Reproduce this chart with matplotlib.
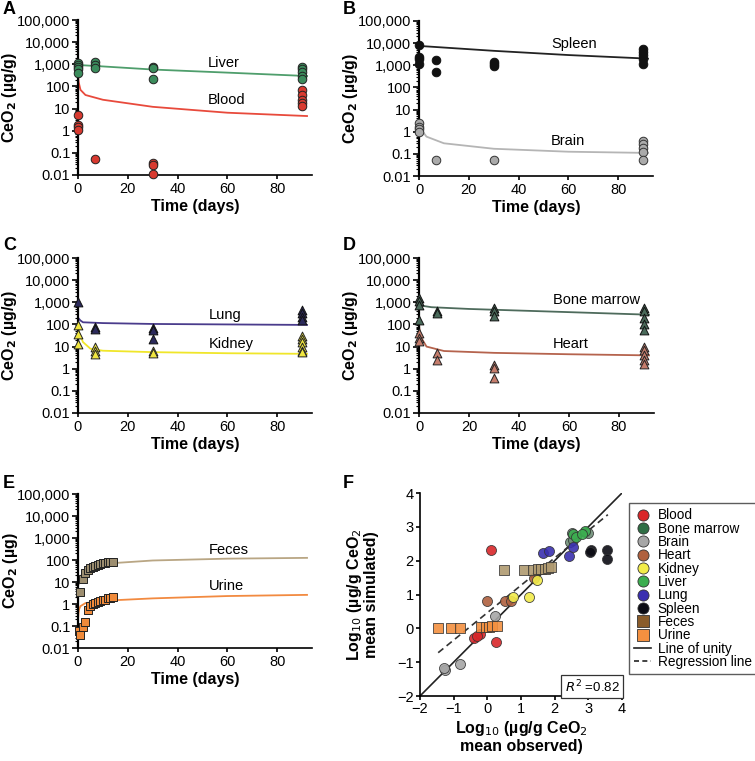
import numpy as np
import matplotlib.pyplot as plt
from matplotlib.ticker import FixedLocator, FuncFormatter, LogLocator, NullFormatter
from matplotlib.lines import Line2D

plt.rcParams['font.family'] = ['Liberation Sans', 'DejaVu Sans']

# ---- panel A: liver / blood ----
liver_t = [0, 0, 0, 0, 0, 7, 7, 7, 30, 30, 30, 90, 90, 90, 90, 90]
liver_v = [1100, 900, 750, 600, 400, 1300, 930, 660, 750, 650, 210, 780, 600, 470, 300, 220]
blood_t = [0, 0, 0, 0, 7, 30, 30, 30, 90, 90, 90, 90, 90]
blood_v = [5, 1.8, 1.4, 1.1, 0.055, 0.035, 0.027, 0.011, 69, 41, 25, 17, 13]
liver_sim_t = [0, 10, 30, 60, 92]
liver_sim_v = [930, 800, 580, 420, 295]
blood_sim_t = [0, 0.3, 1, 3, 10, 30, 60, 92]
blood_sim_v = [300, 150, 70, 41, 25, 12, 6.5, 4.6]

# ---- panel B: spleen / brain ----
spleen_t = [0, 0, 0, 0, 7, 7, 30, 30, 30, 90, 90, 90, 90, 90]
spleen_v = [8000, 2400, 1900, 1200, 1700, 500, 1400, 1200, 950, 5700, 4000, 2800, 2000, 1200]
brain_t = [0, 0, 0, 0, 7, 30, 90, 90, 90, 90, 90]
brain_v = [2.6, 1.6, 1.3, 1.0, 0.053, 0.053, 0.4, 0.27, 0.18, 0.12, 0.053]
spleen_sim_t = [0, 30, 60, 92]
spleen_sim_v = [7500, 4500, 2900, 2000]
brain_sim_t = [0, 0.3, 1, 3, 10, 30, 60, 92]
brain_sim_v = [2.6, 1.8, 1.2, 0.6, 0.3, 0.17, 0.125, 0.11]

# ---- panel C: lung / kidney ----
lung_t = [0, 7, 7, 30, 30, 30, 90, 90, 90, 90]
lung_v = [1000, 80, 60, 70, 55, 23, 430, 330, 215, 155]
kidney_t = [0, 0, 0, 7, 7, 7, 30, 30, 90, 90, 90, 90, 90, 90]
kidney_v = [90, 38, 13, 9.5, 6.5, 4.7, 6.5, 5, 30, 22, 16, 10, 6.5, 5.5]
lung_sim_t = [0, 1, 2, 10, 30, 60, 92]
lung_sim_v = [200, 150, 125, 115, 105, 100, 95]
kidney_sim_t = [0, 0.5, 2, 5, 10, 30, 60, 92]
kidney_sim_v = [90, 40, 16, 8, 6.5, 5.6, 5.0, 4.7]

# ---- panel D: bone marrow / heart ----
bm_t = [0, 0, 0, 0, 7, 7, 30, 30, 30, 90, 90, 90, 90, 90]
bm_v = [1550, 1100, 780, 160, 390, 330, 550, 390, 230, 550, 390, 200, 110, 58]
heart_t = [0, 0, 0, 7, 7, 30, 30, 30, 90, 90, 90, 90, 90]
heart_v = [41, 24, 17, 5.1, 2.6, 1.5, 1.1, 0.37, 10, 7, 4.3, 2.6, 1.6]
bm_sim_t = [0, 5, 20, 50, 92]
bm_sim_v = [730, 600, 500, 390, 275]
heart_sim_t = [0, 0.3, 1, 3, 10, 30, 60, 92]
heart_sim_v = [100, 45, 24, 10, 6.3, 5.2, 4.5, 4.0]

# ---- panel E: feces / urine (cumulative) ----
feces_t = [1, 2, 3, 4, 5, 6, 7, 8, 9, 10, 11, 12, 13, 14]
feces_v = [3.5, 13, 25, 35, 42, 50, 55, 60, 65, 70, 74, 78, 82, 85]
urine_t = [0.5, 1, 2, 3, 4, 5, 6, 7, 8, 9, 10, 11, 12, 13, 14]
urine_v = [0.06, 0.04, 0.09, 0.15, 0.55, 0.8, 1.0, 1.1, 1.2, 1.4, 1.5, 1.6, 1.8, 1.9, 2.0]
feces_sim_t = [0.3, 1, 3, 6, 14, 30, 60, 92]
feces_sim_v = [8, 18, 35, 50, 72, 95, 115, 125]
urine_sim_t = [0, 0.2, 0.5, 1, 3, 10, 30, 60, 92]
urine_sim_v = [0.2, 0.4, 0.6, 0.8, 1.1, 1.4, 1.8, 2.3, 2.6]

# ---- panel F: observed vs simulated (log10) ----
f_groups = ['Blood', 'Bone marrow', 'Brain', 'Heart', 'Kidney', 'Liver', 'Lung', 'Spleen', 'Feces', 'Urine']
f_obs = {
    'Blood': [0.10, -0.40, -0.22, 0.27, -0.30],
    'Bone marrow': [2.50, 2.59, 2.45, 2.55, 2.89, 2.99],
    'Brain': [-1.26, -1.29, -0.81, 0.24],
    'Heart': [-0.02, 0.52, 0.70, 1.39],
    'Kidney': [0.77, 1.23, 1.49],
    'Liver': [2.55, 2.62, 2.90, 2.80],
    'Lung': [1.64, 1.82, 2.43, 2.55],
    'Spleen': [3.07, 3.04, 3.56, 3.55],
    'Feces': [0.50, 1.08, 1.35, 1.50, 1.60, 1.70, 1.80, 1.90],
    'Urine': [-1.46, -1.08, -0.82, -0.20, -0.05, 0.05, 0.15, 0.28],
}
f_sim = {
    'Blood': [2.32, -0.30, -0.17, -0.41, -0.24],
    'Bone marrow': [2.82, 2.72, 2.54, 2.60, 2.86, 2.82],
    'Brain': [-1.23, -1.16, -1.05, 0.35],
    'Heart': [0.82, 0.82, 0.82, 1.48],
    'Kidney': [0.94, 0.92, 1.43],
    'Liver': [2.78, 2.70, 2.88, 2.80],
    'Lung': [2.24, 2.30, 2.14, 2.39],
    'Spleen': [2.32, 2.27, 2.32, 2.05],
    'Feces': [1.73, 1.73, 1.73, 1.74, 1.75, 1.76, 1.78, 1.80],
    'Urine': [0.0, 0.0, 0.0, 0.03, 0.04, 0.05, 0.06, 0.07],
}
# colours as drawn in the scatter, and as shown in the legend
f_colors = {'Blood': '#d9272a', 'Bone marrow': '#6f8f78', 'Brain': '#a6a6a6', 'Heart': '#b0613f',
            'Kidney': '#f2ec4a', 'Liver': '#3cae50', 'Lung': '#3a2fb0', 'Spleen': '#0c0c14',
            'Feces': '#b09a70', 'Urine': '#f39040'}
f_legend_colors = dict(f_colors, **{'Bone marrow': '#2f6e45', 'Feces': '#8a5c2a'})
unity_x = [-2, 4]
regr_x = [-1.46, 3.58]
regr_y = [-0.72, 3.36]
r2_text = '0.82'

log_ticks = [0.01, 0.1, 1, 10, 100, 1000, 10000, 100000]


def fmt_log(v, pos):
    if v < 1:
        return ('%g' % v)
    return '{:,.0f}'.format(v)


def fmt_minus(v, pos):
    return '%d' % v if v >= 0 else '\u2212%d' % -v


W, H = 755, 761
fig = plt.figure(figsize=(W / 100, H / 100), dpi=100)


def box(l, t, r, b):
    return [l / W, 1 - b / H, (r - l) / W, (b - t) / H]


def time_axes(l, t, r, b, ylab, label_x):
    ax = fig.add_axes(box(l, t, r, b))
    ax.set_yscale('log')
    ax.set_ylim(0.01, 100000)
    ax.set_xlim(0, 94)
    ax.yaxis.set_major_locator(FixedLocator(log_ticks))
    ax.yaxis.set_major_formatter(FuncFormatter(fmt_log))
    ax.yaxis.set_minor_locator(LogLocator(base=10, subs=np.arange(2, 10), numticks=20))
    ax.yaxis.set_minor_formatter(NullFormatter())
    ax.set_xticks([0, 20, 40, 60, 80])
    ax.spines['top'].set_visible(False)
    ax.spines['right'].set_visible(False)
    ax.spines['left'].set_linewidth(1.6)
    ax.spines['bottom'].set_linewidth(1.2)
    ax.tick_params(axis='y', which='major', length=4, width=1.2, labelsize=10.5, pad=1.5)
    ax.tick_params(axis='y', which='minor', length=2.5, width=0.8)
    ax.tick_params(axis='x', length=3, width=1.2, labelsize=10.5, pad=2)
    ax.set_xlabel('Time (days)', fontsize=11.5, fontweight='bold', labelpad=2)
    ax.set_ylabel(ylab, fontsize=11.5, fontweight='bold', va='center')
    ax.yaxis.set_label_coords((label_x - l) / (r - l), 0.5)
    return ax


ylab_g = r'CeO$_\mathbf{2}$ (µg/g)'
lab_kw = dict(fontsize=10.5, va='center')

# A
axA = time_axes(78, 20, 312, 175, ylab_g, 10)
axA.plot(liver_sim_t, liver_sim_v, color='#4f9e6c', lw=1.3)
axA.plot(blood_sim_t, blood_sim_v, color='#e84a3c', lw=1.3)
axA.scatter(liver_t, liver_v, s=38, c='#3b8c5c', edgecolors='#222222', linewidths=0.7, clip_on=False, zorder=3)
axA.scatter(blood_t, blood_v, s=38, c='#d83a30', edgecolors='#222222', linewidths=0.7, clip_on=False, zorder=3)
axA.text(52, 1100, 'Liver', **lab_kw)
axA.text(52, 25, 'Blood', **lab_kw)

# B
axB = time_axes(419, 21, 653, 176, ylab_g, 351)
axB.plot(spleen_sim_t, spleen_sim_v, color='#222222', lw=1.3)
axB.plot(brain_sim_t, brain_sim_v, color='#b5b5b5', lw=1.3)
axB.scatter(spleen_t, spleen_v, s=38, c='#111111', edgecolors='#111111', linewidths=0.7, clip_on=False, zorder=3)
axB.scatter(brain_t, brain_v, s=38, c='#aaaaaa', edgecolors='#333333', linewidths=0.7, clip_on=False, zorder=3)
axB.text(53, 9500, 'Spleen', **lab_kw)
axB.text(53, 0.4, 'Brain', **lab_kw)

# C
axC = time_axes(78, 258, 312, 413, ylab_g, 10)
axC.plot(lung_sim_t, lung_sim_v, color='#4a3c8c', lw=1.3)
axC.plot(kidney_sim_t, kidney_sim_v, color='#f0e62a', lw=1.3)
axC.scatter(lung_t, lung_v, s=40, marker='^', c='#2c2a5c', edgecolors='#111111', linewidths=0.7, clip_on=False, zorder=3)
axC.scatter(kidney_t, kidney_v, s=40, marker='^', c='#f0e640', edgecolors='#222222', linewidths=0.7, clip_on=False, zorder=3)
axC.text(52.5, 260, 'Lung', **lab_kw)
axC.text(52.5, 13.5, 'Kidney', **lab_kw)

# D
axD = time_axes(419, 258, 654, 413, ylab_g, 351)
axD.plot(bm_sim_t, bm_sim_v, color='#4e6b5c', lw=1.3)
axD.plot(heart_sim_t, heart_sim_v, color='#b5634d', lw=1.3)
axD.scatter(bm_t, bm_v, s=40, marker='^', c='#4a6a5a', edgecolors='#111111', linewidths=0.7, clip_on=False, zorder=3)
axD.scatter(heart_t, heart_v, s=40, marker='^', c='#c57d6c', edgecolors='#222222', linewidths=0.7, clip_on=False, zorder=3)
axD.text(53.5, 1300, 'Bone marrow', **lab_kw)
axD.text(53.5, 13, 'Heart', **lab_kw)

# E
axE = time_axes(78, 494, 312, 648, r'CeO$_\mathbf{2}$ (µg)', 10)
axE.plot(feces_sim_t, feces_sim_v, color='#b9a684', lw=1.3)
axE.plot(urine_sim_t, urine_sim_v, color='#f28a40', lw=1.3)
axE.scatter(feces_t, feces_v, s=38, marker='s', c='#9d8e70', edgecolors='#222222', linewidths=0.7, clip_on=False, zorder=3)
axE.scatter(urine_t, urine_v, s=38, marker='s', c='#f08a3a', edgecolors='#222222', linewidths=0.7, clip_on=False, zorder=3)
axE.text(52.5, 290, 'Feces', **lab_kw)
axE.text(52.5, 6.3, 'Urine', **lab_kw)

# F
l, t, r, b = 420, 493, 622, 696
axF = fig.add_axes(box(l, t, r, b))
axF.set_xlim(-2, 4)
axF.set_ylim(-2, 4)
axF.set_xticks(range(-2, 5))
axF.set_yticks(range(-2, 5))
axF.xaxis.set_major_formatter(FuncFormatter(fmt_minus))
axF.yaxis.set_major_formatter(FuncFormatter(fmt_minus))
axF.spines['top'].set_visible(False)
axF.spines['right'].set_visible(False)
axF.spines['left'].set_linewidth(1.2)
axF.spines['bottom'].set_linewidth(1.2)
axF.tick_params(length=3, width=1.2, labelsize=10.5, pad=1.5)
axF.plot(unity_x, unity_x, color='#222222', lw=1.2, zorder=2)
axF.plot(regr_x, regr_y, color='#333333', lw=1.2, ls=(0, (4, 2.5)), zorder=2)
for g in f_groups:
    mk = 's' if g in ('Feces', 'Urine') else 'o'
    axF.scatter(f_obs[g], f_sim[g], s=52, marker=mk, c=f_colors[g], edgecolors='#333333',
                linewidths=0.6, zorder=3, alpha=0.9)
axF.text(3.93, -1.72, r'$R^2$ =' + r2_text, ha='right', va='center', fontsize=9.5,
         bbox=dict(boxstyle='square,pad=0.25', fc='white', ec='#333333', lw=0.9))
axF.set_xlabel('Log$_{10}$ (µg/g CeO$_2$\nmean observed)', fontsize=11.5, fontweight='bold',
               linespacing=1.05, labelpad=2)
axF.set_ylabel('Log$_{10}$ (µg/g CeO$_2$\nmean simulated)', fontsize=11.5, fontweight='bold',
               linespacing=1.05, va='center')
axF.yaxis.set_label_coords((362 - l) / (r - l), 0.5)

handles = []
for g in f_groups:
    mk = 's' if g in ('Feces', 'Urine') else 'o'
    handles.append(Line2D([], [], ls='none', marker=mk, markersize=8, markerfacecolor=f_legend_colors[g],
                          markeredgecolor='#333333', markeredgewidth=0.6, label=g))
handles.append(Line2D([], [], color='#222222', lw=1.2, label='Line of unity'))
handles.append(Line2D([], [], color='#222222', lw=1.2, ls=(0, (3, 2)), label='Regression line'))
fig.legend(handles=handles, loc='upper left', bbox_to_anchor=(629 / W, 1 - 503 / H),
           borderaxespad=0, frameon=True, fancybox=False, edgecolor='#333333', fontsize=9.8,
           handlelength=1.2, handletextpad=0.5, labelspacing=-0.05, borderpad=0.4)

# panel letters
for lab, x, y in [('A', 3, 10), ('B', 343, 10), ('C', 3, 246), ('D', 343, 246), ('E', 3, 483), ('F', 343, 483)]:
    fig.text(x / W, 1 - y / H, lab, fontsize=13, fontweight='bold', va='center', ha='left')

fig.savefig('out.png', dpi=100)
